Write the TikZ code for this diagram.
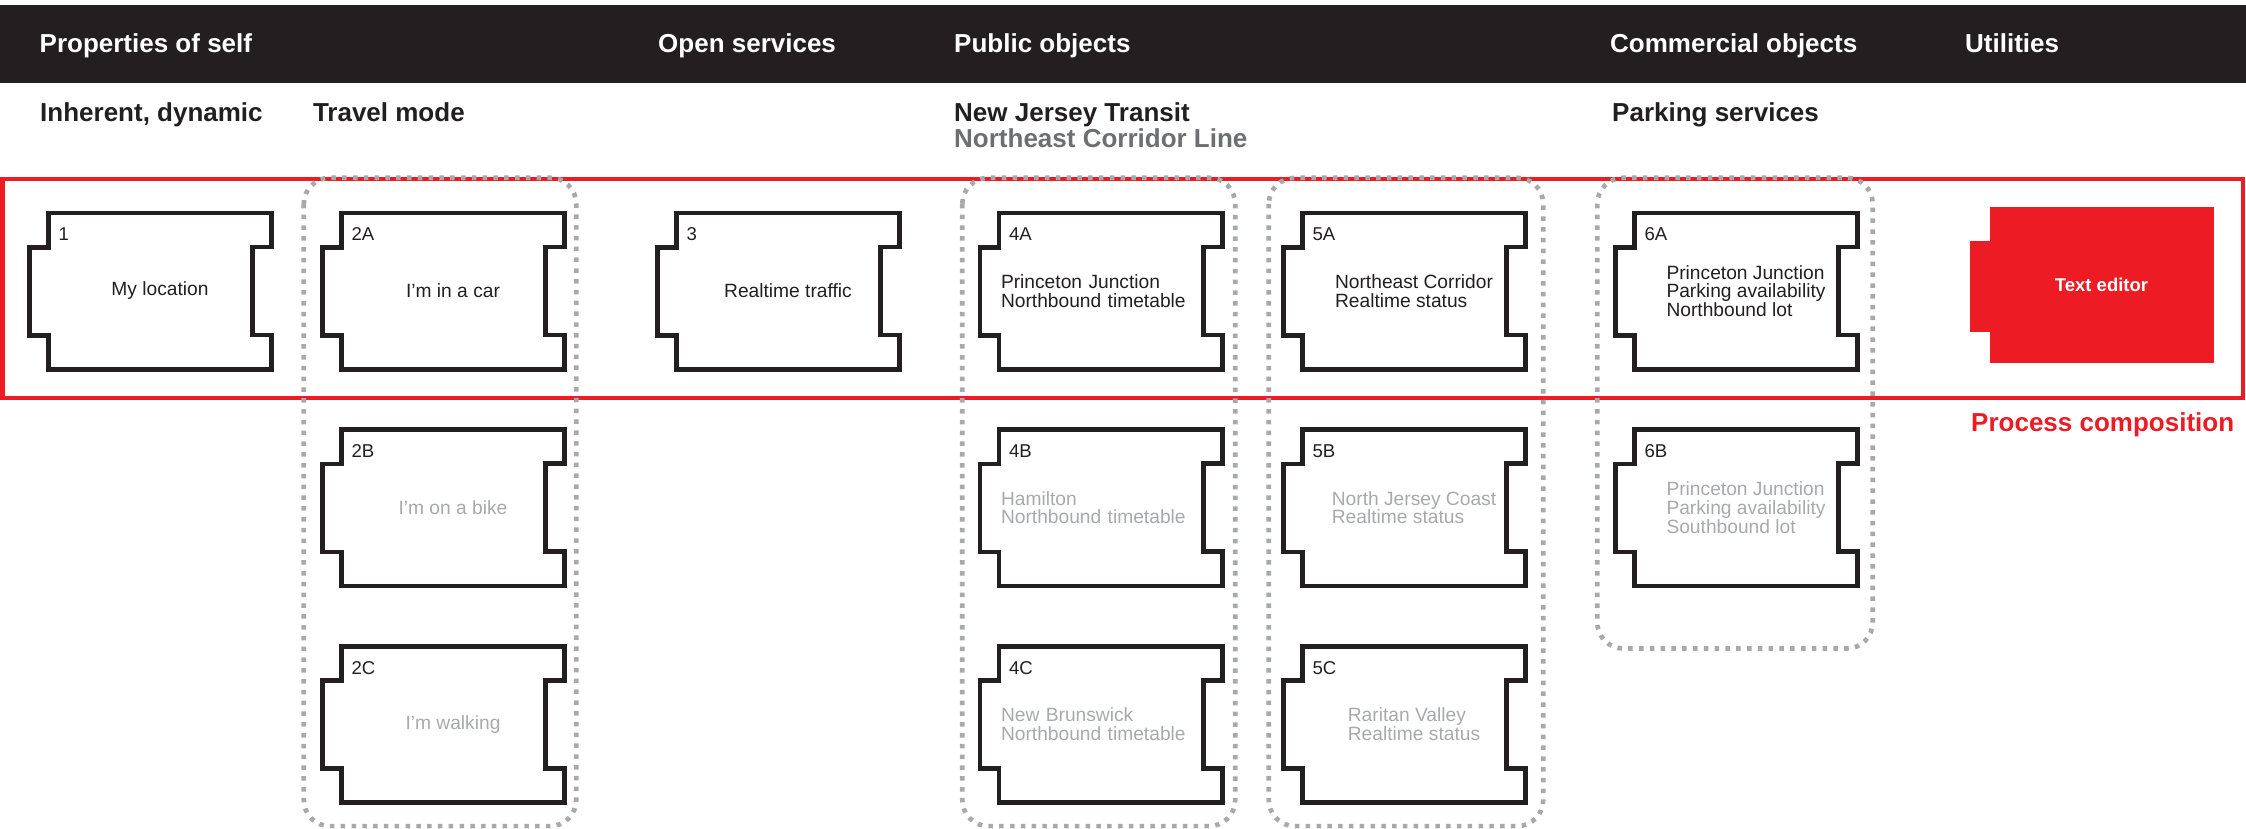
\documentclass[tikz,border=0pt]{standalone}
\usepackage{fontspec}
\setmainfont{Liberation Sans}
\usepackage{xcolor}
\usetikzlibrary{positioning}
\definecolor{barblack}{HTML}{231F20}
\definecolor{procred}{HTML}{ED1C24}
\definecolor{softgray}{HTML}{A7A9AC}
\definecolor{midgray}{HTML}{6D6E71}

\begin{document}
\begin{tikzpicture}[x=1pt,y=-1pt,node distance=216.7pt,
	card/.style={rectangle,minimum width=223pt,minimum height=156pt,inner sep=2pt,align=left,text=barblack,font=\fontsize{19.2}{18.7}\selectfont},
	faded/.style={card,text=softgray},
	leftset/.style={text width=219pt},
	outline/.style={draw=barblack,line width=4.6pt},
	tag/.style={anchor=base west,inner sep=0pt,text=barblack,font=\fontsize{18.6}{18.7}\selectfont},
	head/.style={anchor=base west,inner sep=0pt,text=barblack,font=\bfseries\fontsize{26}{26}\selectfont},
	group/.style={draw=softgray,line width=4.7pt,dash pattern=on 4.5pt off 6.3pt,rounded corners=26pt}]

	\useasboundingbox (0,0) rectangle (2246,828);
	\fill[barblack] (0,5) rectangle (2246,82.7);

	\node[head,text=white] (hself) at (39.5,52.3) {Properties of self};
	\node[head,text=white] (hopen) at (658,52.3) {Open services};
	\node[head,text=white] (hpublic) at (954,52.3) {Public objects};
	\node[head,text=white] (hcommercial) at (1610,52.3) {Commercial objects};
	\node[head,text=white] (hutilities) at (1965,52.3) {Utilities};

	\node[head] (sinherent) at (40,121.5) {Inherent, dynamic};
	\node[head] (stravel) at (312.8,121.5) {Travel mode};
	\node[head] (snjt) at (954,121.5) {New Jersey Transit};
	\node[head,text=midgray] (sline) at (954,147) {Northeast Corridor Line};
	\node[head] (sparking) at (1612,121.5) {Parking services};

	\node[draw=procred,line width=4.2pt,minimum width=2240.9pt,minimum height=219.1pt,inner sep=0pt] (frame) at (1122.85,288.25) {};
	\node[head,text=procred] (process) at (1971,431) {Process composition};

	\node[card] (card1) at (160,291) {My location};
	\node[card] (card2A) at (453,291) {I’m in a car};
	\node[faded] (card2B) [below of=card2A] {I’m on a bike};
	\node[faded] (card2C) [below of=card2B] {I’m walking};
	\node[card] (card3) at (788,291) {Realtime traffic};
	\node[card,leftset] (card4A) at (1110.5,291) {Princeton Junction\\Northbound timetable};
	\node[faded,leftset] (card4B) [below of=card4A] {Hamilton\\Northbound timetable};
	\node[faded,leftset] (card4C) [below of=card4B] {New Brunswick\\Northbound timetable};
	\node[card] (card5A) at (1414,291) {Northeast Corridor\\Realtime status};
	\node[faded] (card5B) [below of=card5A] {North Jersey Coast\\Realtime status};
	\node[faded] (card5C) [below of=card5B] {Raritan Valley\\Realtime status};
	\node[card] (card6A) at (1746,291) {Princeton Junction\\Parking availability\\Northbound lot};
	\node[faded] (card6B) [below of=card6A] {Princeton Junction\\Parking availability\\Southbound lot};

	\foreach \n in {1,2A,2B,2C,3,4A,4B,4C,5A,5B,5C,6A,6B}{
		\draw[outline] (card\n.north west) -- (card\n.north east) -- ++(0,34) -- ++(-19,0) -- ++(0,88) -- ++(19,0)
			-- (card\n.south east) -- (card\n.south west) -- ++(0,-34) -- ++(-19,0) -- ++(0,-88) -- ++(19,0) -- cycle;
		\node[tag] (tag\n) at ([shift={(10,28)}]card\n.north west) {\n};
	}

	\node[fill=procred,minimum width=224pt,minimum height=156pt,inner sep=0pt,text=white,font=\bfseries\fontsize{18.5}{18.5}\selectfont] (editor) at (2101.5,285.3) {Text editor};
	\fill[procred] ([shift={(-19,34)}]editor.north west) rectangle ([shift={(0.5,-32)}]editor.south west);

	\draw[group] ([shift={(-37.5,-35)}]card2A.north west) rectangle ([shift={(11.5,23.5)}]card2C.south east);
	\draw[group] ([shift={(-36.5,-35)}]card4A.north west) rectangle ([shift={(13,23.5)}]card4C.south east);
	\draw[group] ([shift={(-33.5,-35)}]card5A.north west) rectangle ([shift={(17.5,23.5)}]card5C.south east);
	\draw[group] ([shift={(-37,-35)}]card6A.north west) rectangle ([shift={(15,62.6)}]card6B.south east);
\end{tikzpicture}
\end{document}
